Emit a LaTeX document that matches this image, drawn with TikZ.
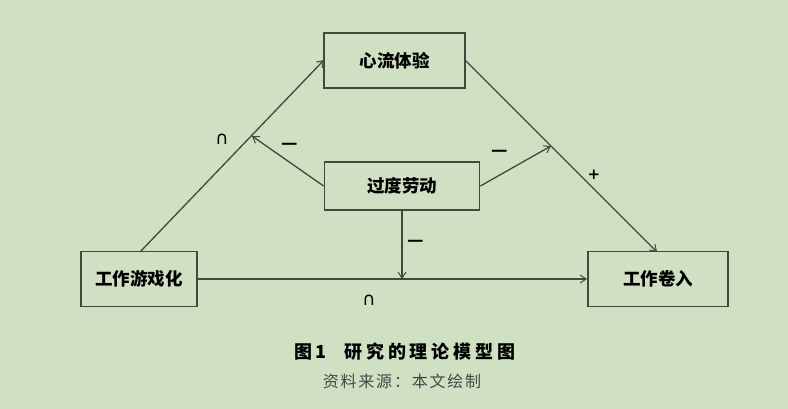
\documentclass[tikz,border=0pt]{standalone}
\usepackage{fontspec}
\newfontfamily\cjk{Noto Sans CJK SC}
\newfontfamily\capfont{Noto Sans CJK SC}[LetterSpace=22]
\newfontfamily\srcfont{Noto Sans CJK SC}[LetterSpace=11]
\newfontfamily\symfont{DejaVu Sans}
\begin{document}
\begin{tikzpicture}[x=1pt,y=-1pt,
  line/.style={draw=linec,line width=1.3pt},
  arr/.style={line,->,>={Straight Barb[length=6pt,width=8pt,line width=1pt]}},
  box/.style={draw=linec,line width=1.8pt,inner sep=0pt,font=\cjk\bfseries\fontsize{17.5}{19}\selectfont,text=black},
  sign/.style={inner sep=0pt,text=black},
]
\definecolor{bgc}{RGB}{207,224,195}
\definecolor{linec}{RGB}{62,74,60}
\definecolor{notec}{RGB}{70,70,70}
\usetikzlibrary{arrows.meta}
% page background
\fill[bgc] (0,0) rectangle (788,409);
\useasboundingbox (0,0) rectangle (788,409);

% variables
\node[box,minimum width=141pt,minimum height=55pt] (flow) at (394.5,60.5) {心流体验};
\node[box,minimum width=155pt,minimum height=48pt] (over) at (402,186) {过度劳动};
\node[box,minimum width=116pt,minimum height=55pt] (game) at (139,279) {工作游戏化};
\node[box,minimum width=140pt,minimum height=55pt] (inv)  at (658,279) {工作卷入};

% points where the moderating paths meet the main paths
\coordinate (gs) at (140,252);
\coordinate (fe) at (324,60);
\coordinate (fs) at (465,60);
\coordinate (it) at (657,252);
\coordinate (m1) at (252,136);
\coordinate (m2) at (551,146);
\coordinate (m3) at (402,279);
\coordinate (os) at (402,210);

% main paths
\draw[arr] (gs) -- (fe);
\draw[arr] (fs) -- (it);
\draw[arr] (game.east) -- (inv.west);

% moderating paths
\draw[arr] (over.west) -- (m1);
\draw[arr] (over.east) -- (m2);
\draw[arr] (os) -- (m3);

% path signs
\node[sign,font=\symfont\fontsize{18}{18}\selectfont] (s1) at (222,139) {∩};
\node[sign,font=\symfont\fontsize{18}{18}\selectfont] (s2) at (369,300) {∩};
\node[sign,font=\symfont\bfseries\fontsize{15}{15}\selectfont] (s3) at (594,175) {+};
\node[sign,font=\cjk\bfseries\fontsize{18}{18}\selectfont] (d1) at (290,146) {—};
\node[sign,font=\cjk\bfseries\fontsize{18}{18}\selectfont] (d2) at (500,153) {—};
\node[sign,font=\cjk\bfseries\fontsize{18}{18}\selectfont] (d3) at (416,243) {—};

% caption
\node[font=\capfont\bfseries\fontsize{18}{20}\selectfont,text=black] (cap) at (405,352) {图\,1\quad 研究的理论模型图};
\node[font=\srcfont\fontsize{16}{18}\selectfont,text=notec] (src) at (402,381) {资料来源：本文绘制};
\end{tikzpicture}
\end{document}
